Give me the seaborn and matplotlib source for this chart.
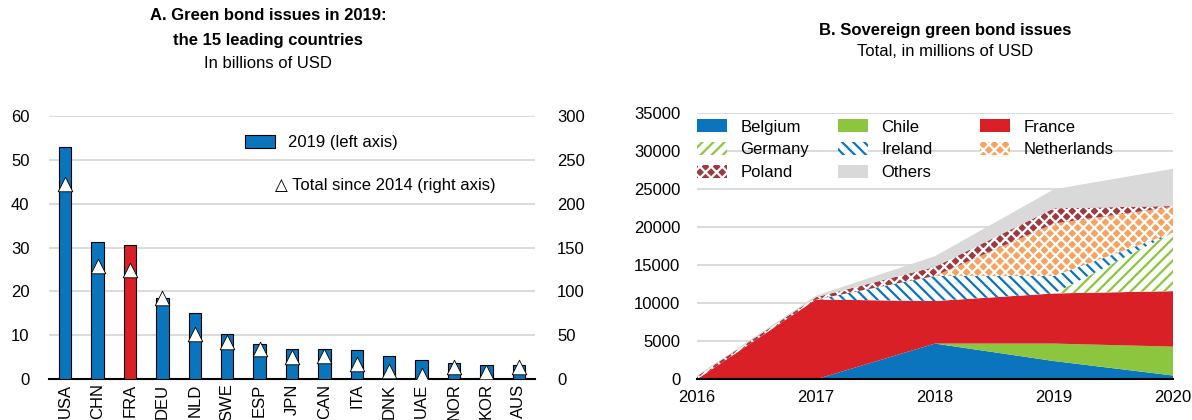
import numpy as np
import pandas as pd
import matplotlib
matplotlib.use("Agg")
import matplotlib.pyplot as plt
from matplotlib.patches import Patch
from matplotlib.legend import Legend
import seaborn as sns

# ---------------- data ----------------
countries = ["USA", "CHN", "FRA", "DEU", "NLD", "SWE", "ESP", "JPN",
             "CAN", "ITA", "DNK", "UAE", "NOR", "KOR", "AUS"]
issues_2019 = [52.8, 31.2, 30.6, 18.6, 15.0, 10.4, 8.1, 7.0,
               7.0, 6.6, 5.4, 4.5, 3.6, 3.3, 3.2]
total_since_2014 = [222, 129, 124, 92, 52, 42, 34, 25,
                    27, 17, 10, 5, 14, 8, 14]

years = [2016, 2017, 2018, 2019, 2020]
belgium = [0, 0, 4700, 2400, 500]
chile = [0, 0, 0, 2300, 3800]
france = [0, 10500, 5600, 6600, 7300]
germany = [0, 0, 0, 0, 7700]
ireland = [0, 0, 3300, 2300, 0]
netherlands = [0, 0, 0, 6900, 3400]
poland = [400, 300, 1200, 2000, 100]
others = [100, 200, 1400, 2500, 4900]

# ---------------- style ----------------
sns.set_theme(style="white")
plt.rcParams["font.family"] = ["Liberation Sans", "DejaVu Sans"]
plt.rcParams["hatch.linewidth"] = 1.6
plt.rcParams["text.color"] = "black"
plt.rcParams["xtick.color"] = "black"
plt.rcParams["ytick.color"] = "black"
plt.rcParams["xtick.labelcolor"] = "black"
plt.rcParams["ytick.labelcolor"] = "black"
FS = 12

BLUE = "#0A75BD"
RED = "#D92027"
GREEN = "#8CC63F"
ORANGE = "#F7A25E"
DARKRED = "#9E3A3F"
GREY = "#D9D9D9"
GRID = "#D4D4D4"

fig = plt.figure(figsize=(11.92, 4.2), dpi=100)

# ---------------- Panel A ----------------
axA = fig.add_axes([49/1192, 1-379.3/420, (535-49)/1192, (379.3-115.7)/420])
dfA = pd.DataFrame({"country": countries, "value": issues_2019})
pal = {c: (RED if c == "FRA" else BLUE) for c in countries}
sns.barplot(data=dfA, x="country", y="value", hue="country", palette=pal,
            legend=False, width=0.38, edgecolor="black", linewidth=0.8,
            saturation=1, ax=axA, zorder=3)
axA.set_xlim(-0.5, len(countries) - 0.5)
axA.set_ylim(0, 60)
axA.set_yticks(range(0, 61, 10))
axA.yaxis.grid(True, color=GRID, linewidth=1.2, zorder=0)
axA.set_axisbelow(True)
axA.set_xlabel("")
axA.set_ylabel("")
for s in ["left", "right", "top"]:
    axA.spines[s].set_visible(False)
axA.spines["bottom"].set_color("black")
axA.spines["bottom"].set_linewidth(1.5)
axA.set_xticks(np.arange(len(countries)))
axA.set_xticklabels(countries, rotation=90, fontsize=FS)
axA.tick_params(axis="x", length=0, pad=3)
axA.set_xticks(np.arange(-0.5, len(countries), 1), minor=True)
axA.tick_params(axis="x", which="minor", direction="in", length=5, width=1.2, color="black")
axA.tick_params(axis="y", length=0, pad=14, labelsize=FS)

axA2 = axA.twinx()
sns.scatterplot(x=np.arange(len(countries)), y=total_since_2014, marker="^",
                s=110, color="white", edgecolor="black", linewidth=0.6,
                ax=axA2, zorder=5)
axA2.set_ylim(0, 300)
axA2.set_yticks(range(0, 301, 50))
axA2.tick_params(axis="y", length=0, pad=16, labelsize=FS)
for s in ["left", "right", "top", "bottom"]:
    axA2.spines[s].set_visible(False)
axA2.set_ylabel("")

legA = axA.legend(handles=[Patch(facecolor=BLUE, edgecolor="black", linewidth=0.8,
                                 label="2019 (left axis)")],
                  loc="upper left", bbox_to_anchor=(0.372, 0.985), frameon=False,
                  fontsize=FS, handlelength=1.8, handleheight=0.9, handletextpad=0.8)
axA.text(0.465, 0.735, "\u25B3 Total since 2014 (right axis)", transform=axA.transAxes,
         fontsize=FS, va="center", ha="left",
         family=["Liberation Sans", "DejaVu Sans"])

fig.text(268/1192, 1-16/420, "A. Green bond issues in 2019:", ha="center", va="center",
         fontsize=FS, fontweight="bold")
fig.text(268/1192, 1-40/420, "the 15 leading countries", ha="center", va="center",
         fontsize=FS, fontweight="bold")
fig.text(268/1192, 1-64/420, "In billions of USD", ha="center", va="center", fontsize=FS)

# ---------------- Panel B ----------------
axB = fig.add_axes([697/1192, 1-379.3/420, (1173-697)/1192, (379.3-113.3)/420])
series = [belgium, chile, france, germany, ireland, netherlands, poland, others]
names = ["Belgium", "Chile", "France", "Germany", "Ireland", "Netherlands", "Poland", "Others"]
face = [BLUE, GREEN, RED, "white", "white", ORANGE, DARKRED, GREY]
edge = ["none", "none", "none", GREEN, BLUE, "white", "white", "none"]
hatch = [None, None, None, "///", "\\\\\\", "xxx", "xxx", None]
polys = axB.stackplot(years, *series, zorder=2)
handles = {}
for p, n, fc, ec, h in zip(polys, names, face, edge, hatch):
    p.set_facecolor(fc)
    p.set_edgecolor(ec)
    p.set_linewidth(0)
    if h:
        p.set_hatch(h)
    handles[n] = Patch(facecolor=fc, edgecolor=ec, hatch=h, linewidth=0, label=n)

axB.set_xlim(2016, 2020)
axB.set_ylim(0, 35000)
axB.set_yticks(range(0, 35001, 5000))
axB.set_xticks(years)
axB.yaxis.grid(True, color=GRID, linewidth=1.2, zorder=0)
axB.set_axisbelow(True)
for s in ["left", "right", "top"]:
    axB.spines[s].set_visible(False)
axB.spines["bottom"].set_color("black")
axB.spines["bottom"].set_linewidth(1.5)
axB.spines["bottom"].set_zorder(5)
axB.tick_params(axis="x", direction="in", length=5, width=1.2, color="black",
                pad=8, labelsize=FS)
axB.tick_params(axis="y", length=0, pad=12, labelsize=FS)

legend_cols = [["Belgium", "Germany", "Poland"],
               ["Chile", "Ireland", "Others"],
               ["France", "Netherlands"]]
col_x = [697, 838, 980]
axw = 1173 - 697
for col, xpx in zip(legend_cols, col_x):
    lg = Legend(axB, [handles[n] for n in col], col, loc="upper left",
                bbox_to_anchor=((xpx - 697) / axw, 0.978), frameon=False,
                fontsize=FS, handlelength=1.8, handleheight=0.85,
                handletextpad=0.8, labelspacing=0.45, borderpad=0,
                borderaxespad=0)
    axB.add_artist(lg)

fig.text(945/1192, 1-30/420, "B. Sovereign green bond issues", ha="center", va="center",
         fontsize=FS, fontweight="bold")
fig.text(945/1192, 1-52/420, "Total, in millions of USD", ha="center", va="center",
         fontsize=FS)

fig.savefig("out.png", dpi=100)
